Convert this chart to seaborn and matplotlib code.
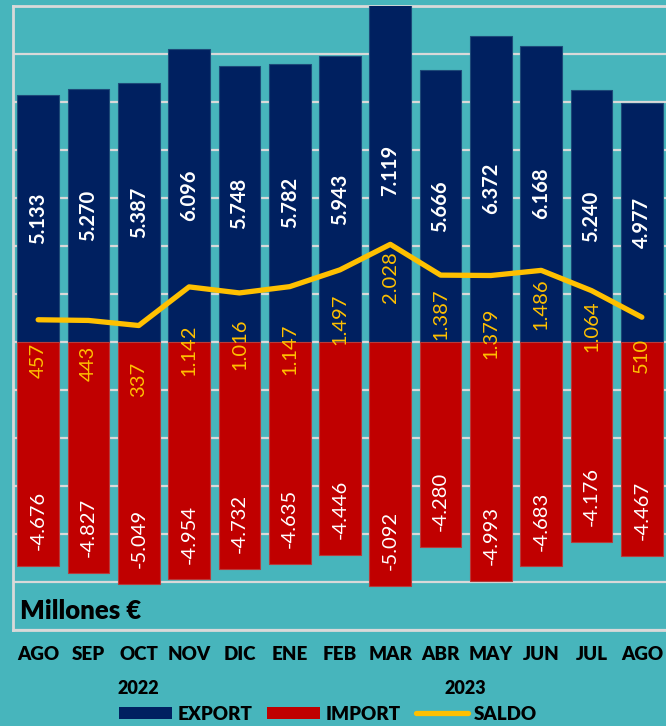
import matplotlib
matplotlib.use("Agg")
import numpy as np
import pandas as pd
import matplotlib.pyplot as plt
import seaborn as sns
from matplotlib.patches import Patch
from matplotlib.lines import Line2D
from matplotlib.transforms import blended_transform_factory

MONTHS = ["AGO", "SEP", "OCT", "NOV", "DIC", "ENE", "FEB",
          "MAR", "ABR", "MAY", "JUN", "JUL", "AGO"]
EXPORT = [5133, 5270, 5387, 6096, 5748, 5782, 5943, 7119, 5666, 6372, 6168, 5240, 4977]
IMPORT = [-4676, -4827, -5049, -4954, -4732, -4635, -4446, -5092, -4280, -4993, -4683, -4176, -4467]
SALDO  = [457, 443, 337, 1142, 1016, 1147, 1497, 2028, 1387, 1379, 1486, 1064, 510]
YEARS  = [("2022", 2), ("2023", 8.5)]

# where each saldo label sits below its point (pixels)
SALDO_LABEL_DROP = [41, 43, 54, 63, 51, 63, 49, 33, 39, 58, 34, 36, 38]

BG     = "#47b5bc"
NAVY   = "#002060"
RED    = "#c00000"
YELLOW = "#ffc000"
GRID   = "#d9d9d9"

sns.set_style("white")
plt.rcParams["font.family"] = ["Lato", "DejaVu Sans"]

df = pd.DataFrame({"pos": np.arange(len(MONTHS)), "export": EXPORT,
                   "import": IMPORT, "saldo": SALDO})

def fmt(v):
    return f"{v:,}".replace(",", ".")

fig = plt.figure(figsize=(6.66, 7.26), dpi=100, facecolor=BG)
ax = fig.add_axes([13 / 666, 96.3 / 726, 654 / 666, 624 / 726])
ax.set_facecolor(BG)

sns.barplot(data=df, x="pos", y="export", color=NAVY, saturation=1,
            width=0.83, ax=ax, zorder=3, linewidth=0.8, edgecolor="#1d4a78")
sns.barplot(data=df, x="pos", y="import", color=RED, saturation=1,
            width=0.83, ax=ax, zorder=3, linewidth=0.8, edgecolor="#b83a3a")
sns.lineplot(data=df, x="pos", y="saldo", color=YELLOW, lw=3.8, ax=ax,
             zorder=4, solid_capstyle="round", solid_joinstyle="round")

ax.set_xlim(-0.5, 12.5)
ax.set_ylim(-6000, 7000)
ax.set_yticks(np.arange(-6000, 7001, 1000))
ax.yaxis.grid(True, color=GRID, lw=1.6, zorder=0)
ax.set_axisbelow(True)
ax.tick_params(axis="y", left=False, labelleft=False)
ax.set_xticks(df["pos"])
ax.set_xticklabels(MONTHS, fontsize=13.5, fontweight="heavy", color="black")
ax.tick_params(axis="x", length=0, pad=12)
ax.set_xlabel("")
ax.set_ylabel("")
for side in ["left", "top", "bottom", "right"]:
    ax.spines[side].set_color(GRID)
    ax.spines[side].set_linewidth(2)

for i, row in df.iterrows():
    ax.text(row["pos"], row["export"] / 2, fmt(row["export"]), rotation=90,
            ha="center", va="center", color="white", fontsize=14.5,
            fontweight="bold", zorder=6)
    ax.annotate(fmt(row["import"]), (row["pos"], row["import"]),
                xytext=(0, 11.5), textcoords="offset points", rotation=90,
                ha="center", va="bottom", color="white", fontsize=14.5,
                zorder=6)
    ax.annotate(fmt(row["saldo"]), (row["pos"], row["saldo"]),
                xytext=(0, -SALDO_LABEL_DROP[i] * 0.72), textcoords="offset points",
                rotation=90, ha="center", va="center", color=YELLOW,
                fontsize=14.5, zorder=6)

ax.text(0.011, 0.03, "Millones €", transform=ax.transAxes, ha="left",
        va="center", fontsize=18.5, fontweight="heavy", color="black")

trans = blended_transform_factory(ax.transData, fig.transFigure)
for label, xpos in YEARS:
    ax.text(xpos, 1 - 688 / 726, label, transform=trans, ha="center",
            va="center", fontsize=13, fontweight="heavy", color="black",
            clip_on=False)

handles = [Patch(facecolor=NAVY, edgecolor="none", label="EXPORT"),
           Patch(facecolor=RED, edgecolor="none", label="IMPORT"),
           Line2D([0], [0], color=YELLOW, lw=3.8, solid_capstyle="round", label="SALDO")]
leg = fig.legend(handles=handles, loc="center", bbox_to_anchor=(328 / 666, 1 - 714 / 726),
                 ncol=3, frameon=False, handlelength=2.8, handleheight=0.55,
                 handletextpad=0.3, columnspacing=0.8, fontsize=13.5)
for t in leg.get_texts():
    t.set_fontweight("heavy")
    t.set_color("black")

fig.savefig("out.png", dpi=100, facecolor=BG)
